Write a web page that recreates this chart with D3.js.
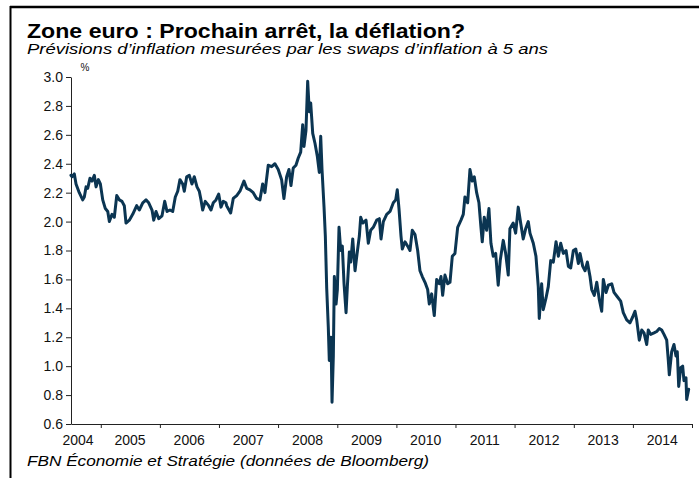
<!DOCTYPE html>
<html><head><meta charset="utf-8">
<script src="https://cdn.jsdelivr.net/npm/d3@7"></script>
<style>
html,body{margin:0;padding:0;background:#fff;}
svg{display:block;font-family:Arial,"Liberation Sans",sans-serif;}
</style></head>
<body>
<svg id="chart" width="699" height="478"></svg>
<script>
const title = "Zone euro : Prochain arrêt, la déflation?";
const subtitle = "Prévisions d’inflation mesurées par les swaps d’inflation à 5 ans";
const source = "FBN Économie et Stratégie (données de Bloomberg)";
const unitLabel = "%";
const yTicks = [0.6,0.8,1.0,1.2,1.4,1.6,1.8,2.0,2.2,2.4,2.6,2.8,3.0];
const yearLabels = [2004,2005,2006,2007,2008,2009,2010,2011,2012,2013,2014];
const yearTicks = [2005,2006,2007,2008,2009,2010,2011,2012,2013,2014,2015];
// dates as decimal years, values in %
const dates = [
2004.497,2004.514,2004.553,2004.582,2004.637,2004.695,2004.722,2004.751,2004.779,2004.818,2004.852,2004.891,2004.920,2004.959,2004.993,
2005.033,2005.077,2005.118,2005.145,2005.190,2005.229,2005.270,2005.314,2005.359,2005.398,2005.427,2005.483,2005.540,2005.608,2005.652,2005.710,2005.765,2005.811,2005.867,2005.896,2005.935,2005.981,
2006.036,2006.082,2006.121,2006.171,2006.217,2006.261,2006.302,2006.340,2006.386,2006.413,2006.454,2006.498,2006.543,2006.582,2006.628,2006.667,2006.696,2006.724,2006.768,2006.826,2006.865,2006.904,2006.949,2006.995,
2007.034,2007.073,2007.118,2007.130,2007.198,2007.242,2007.300,2007.355,2007.423,2007.469,2007.524,2007.580,2007.637,2007.693,2007.739,2007.778,2007.834,2007.891,2007.947,
2008.003,2008.060,2008.099,2008.145,2008.184,2008.218,2008.256,2008.302,2008.341,2008.382,2008.416,2008.438,2008.471,2008.500,2008.527,2008.551,2008.585,2008.624,2008.663,2008.696,2008.720,2008.742,2008.776,2008.798,2008.821,2008.848,2008.865,2008.894,2008.911,2008.933,2008.950,2008.979,
2009.001,2009.029,2009.058,2009.085,2009.114,2009.148,2009.170,2009.204,2009.227,2009.261,2009.300,2009.329,2009.373,2009.396,2009.430,2009.486,2009.525,2009.565,2009.609,2009.667,2009.711,2009.740,2009.779,2009.836,2009.892,2009.948,2009.988,
2010.015,2010.044,2010.078,2010.100,2010.146,2010.191,2010.230,2010.269,2010.315,2010.360,2010.399,2010.438,2010.484,2010.529,2010.557,2010.597,2010.641,2010.682,2010.726,2010.755,2010.783,2010.822,2010.868,2010.907,2010.946,2010.991,
2011.037,2011.093,2011.132,2011.160,2011.206,2011.245,2011.284,2011.318,2011.358,2011.397,2011.431,2011.453,2011.487,2011.527,2011.566,2011.600,2011.639,2011.680,2011.723,2011.757,2011.808,2011.849,2011.893,2011.921,2011.977,
2012.018,2012.062,2012.107,2012.146,2012.187,2012.231,2012.260,2012.316,2012.361,2012.400,2012.417,2012.457,2012.484,2012.530,2012.569,2012.610,2012.654,2012.700,2012.739,2012.779,2012.823,2012.869,2012.908,2012.948,2012.992,
2013.033,2013.077,2013.105,2013.151,2013.190,2013.229,2013.274,2013.303,2013.347,2013.388,2013.432,2013.472,2013.499,2013.545,2013.584,2013.641,2013.680,2013.736,2013.793,2013.837,2013.895,2013.950,2013.996,
2014.035,2014.064,2014.108,2014.149,2014.188,2014.233,2014.260,2014.301,2014.357,2014.403,2014.447,2014.487,2014.526,2014.572,2014.599,2014.616,2014.656,2014.695,2014.729,2014.751,2014.775,2014.808,2014.842,2014.864,2014.898,2014.910,2014.944
];
const values = [
2.32,2.31,2.33,2.26,2.20,2.15,2.17,2.24,2.23,2.30,2.28,2.32,2.24,2.29,2.26,
2.15,2.09,2.07,2.00,2.05,2.03,2.18,2.15,2.14,2.11,1.99,2.01,2.05,2.11,2.08,2.13,2.15,2.13,2.08,2.01,2.07,2.02,
2.04,2.14,2.07,2.08,2.07,2.17,2.21,2.29,2.26,2.21,2.31,2.32,2.26,2.31,2.24,2.21,2.15,2.08,2.14,2.11,2.08,2.13,2.15,2.19,
2.10,2.14,2.13,2.11,2.06,2.16,2.18,2.21,2.28,2.23,2.22,2.20,2.16,2.15,2.26,2.20,2.39,2.38,2.40,
2.36,2.29,2.16,2.31,2.36,2.25,2.37,2.39,2.44,2.48,2.67,2.52,2.63,2.97,2.76,2.82,2.61,2.54,2.45,2.34,2.59,2.36,2.10,1.90,1.54,1.27,1.04,1.20,0.75,1.07,1.62,1.43,
1.53,1.96,1.80,1.83,1.57,1.37,1.55,1.79,1.72,1.88,1.66,1.76,1.90,2.03,1.99,2.01,1.85,1.94,1.96,2.01,2.02,1.88,2.00,2.05,2.07,2.13,2.15,
2.22,2.09,1.90,1.81,1.86,1.83,1.80,1.94,1.91,1.80,1.66,1.62,1.58,1.53,1.43,1.50,1.35,1.60,1.57,1.62,1.49,1.63,1.57,1.58,1.76,1.78,
1.96,2.01,2.05,2.17,2.13,2.36,2.28,2.31,2.20,2.13,1.96,1.86,2.03,1.94,2.09,1.85,1.76,1.78,1.56,1.73,1.87,1.78,1.63,1.95,1.99,
1.92,2.10,1.98,1.88,1.95,2.00,1.92,1.85,1.76,1.55,1.33,1.57,1.39,1.47,1.55,1.73,1.72,1.86,1.76,1.85,1.78,1.80,1.69,1.68,1.80,
1.81,1.71,1.78,1.69,1.66,1.72,1.62,1.53,1.49,1.58,1.46,1.38,1.60,1.51,1.56,1.57,1.51,1.48,1.45,1.37,1.32,1.30,1.34,
1.38,1.32,1.18,1.25,1.23,1.15,1.25,1.22,1.23,1.24,1.26,1.25,1.22,1.18,1.04,0.94,1.10,1.15,1.07,1.10,0.86,0.99,1.00,0.90,0.92,0.77,0.84
];

function toDate(t){
  const yr = Math.floor(t);
  const a = new Date(yr,0,1).getTime(), b = new Date(yr+1,0,1).getTime();
  return new Date(a + (t-yr)*(b-a));
}
const data = dates.map((t,i)=>({date:toDate(t), value:values[i]}));

const svg = d3.select("#chart");
const font = 'Arial,"Liberation Sans",sans-serif';

// frame
svg.append("line").attr("x1",10).attr("x2",699).attr("y1",7).attr("y2",7).attr("stroke","#000").attr("stroke-width",2.5);
svg.append("line").attr("x1",10.5).attr("x2",10.5).attr("y1",6).attr("y2",478).attr("stroke","#000").attr("stroke-width",2);

svg.append("text").attr("x",27).attr("y",37.5).attr("font-size",20.5).attr("font-weight","bold").attr("fill","#000")
  .attr("textLength",438).attr("lengthAdjust","spacingAndGlyphs").text(title);
svg.append("text").attr("x",27).attr("y",53.5).attr("font-size",14.5).attr("font-style","italic").attr("fill","#000")
  .attr("textLength",521).attr("lengthAdjust","spacingAndGlyphs").text(subtitle);
svg.append("text").attr("x",27).attr("y",466).attr("font-size",14).attr("font-style","italic").attr("fill","#000")
  .attr("textLength",402).attr("lengthAdjust","spacingAndGlyphs").text(source);

const x = d3.scaleTime().domain([new Date(2004,6,1), new Date(2015,0,1)]).range([71,692]);
const y = d3.scaleLinear().domain([0.6,3.0]).range([424,77]);

// y axis
const yAxis = svg.append("g").attr("transform","translate(71,0)")
  .call(d3.axisLeft(y).tickValues(yTicks).tickFormat(d3.format(".1f")).tickSize(5).tickSizeOuter(0).tickPadding(3));
yAxis.selectAll("text").attr("font-size",14).attr("font-family",font).attr("fill","#111");
yAxis.selectAll("line,path").attr("stroke","#222");

svg.append("text").attr("x",85).attr("y",71).attr("text-anchor","middle")
  .attr("font-size",10).attr("fill","#111").text(unitLabel);

// x axis
const xAxis = svg.append("g").attr("transform","translate(0,424)")
  .call(d3.axisBottom(x).tickValues(yearTicks.map(yv=>new Date(yv,0,1))).tickFormat("").tickSize(4).tickSizeOuter(0));
xAxis.selectAll("line,path").attr("stroke","#222");
const x0 = x.range()[0];
svg.append("g").selectAll("text").data(yearLabels).join("text")
  .attr("x", d => Math.max(x(new Date(d,6,1)), x0 + 7))
  .attr("y", 445)
  .attr("text-anchor","middle").attr("font-size",14).attr("fill","#111")
  .text(d=>d);

// line
const line = d3.line().x(d=>x(d.date)).y(d=>y(d.value));
svg.append("path").datum(data).attr("d",line).attr("fill","none")
  .attr("stroke","#0b3552").attr("stroke-width",3).attr("stroke-linejoin","round").attr("stroke-linecap","round");
</script>
</body></html>
